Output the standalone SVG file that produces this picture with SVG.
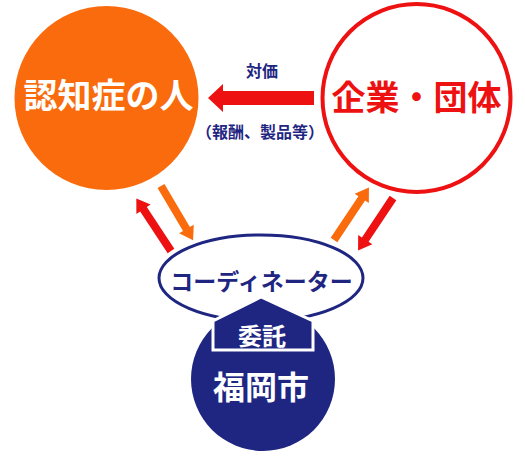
<svg xmlns="http://www.w3.org/2000/svg" width="525" height="456" viewBox="0 0 525 456">
<style>
text{font-family:"Noto Sans CJK JP","Noto Sans CJK SC",sans-serif;font-weight:700;text-anchor:middle;dominant-baseline:central}
.navy{fill:#1f2682}
.white{fill:#fff}
.red{fill:#ee1111}
.orange{fill:#f96b0c}
</style>
<defs>
<path id="da" d="M0,-4 L50,-4 L50,-8.5 L63,0 L50,8.5 L50,4 L0,4 Z"/>
</defs>
<rect width="525" height="456" fill="#fff"/>
<g id="connectors">
<path class="red" d="M208,98 L223,84 L223,91 L314,91 L314,105 L223,105 L223,112 Z"/>
<text class="navy" x="262" y="70" font-size="16">対価</text>
<text class="navy" x="260" y="131" font-size="16">（報酬、製品等）</text>
<use href="#da" class="red" transform="translate(171,251) rotate(-123.4)"/>
<use href="#da" class="orange" transform="translate(161,186) rotate(59.4)"/>
<use href="#da" class="orange" transform="translate(334,240) rotate(-56.3)"/>
<use href="#da" class="red" transform="translate(393,198) rotate(123.7)"/>
</g>
<g id="person">
<circle cx="106.5" cy="98" r="92" fill="#f96b0c"/>
<text class="white" x="108.5" y="93" font-size="34">認知症の人</text>
</g>
<g id="company">
<circle cx="416.5" cy="98" r="94" fill="#fff" stroke="#ee1111" stroke-width="4"/>
<text class="red" x="416.5" y="95" font-size="34">企業・団体</text>
</g>
<g id="coordinator">
<ellipse cx="261" cy="278" rx="102" ry="43" fill="#fff" stroke="#1f2682" stroke-width="3"/>
<text class="navy" x="261.5" y="280" font-size="23">コーディネーター</text>
</g>
<g id="city">
<circle cx="263" cy="379" r="72" fill="#1f2682"/>
<path d="M261,297 L313,321 L313,350 L213,350 L213,321 Z" fill="#1f2682" stroke="#fff" stroke-width="3" stroke-linejoin="miter"/>
<text class="white" x="262" y="334" font-size="24">委託</text>
<text class="white" x="261" y="385" font-size="32">福岡市</text>
</g>
</svg>
